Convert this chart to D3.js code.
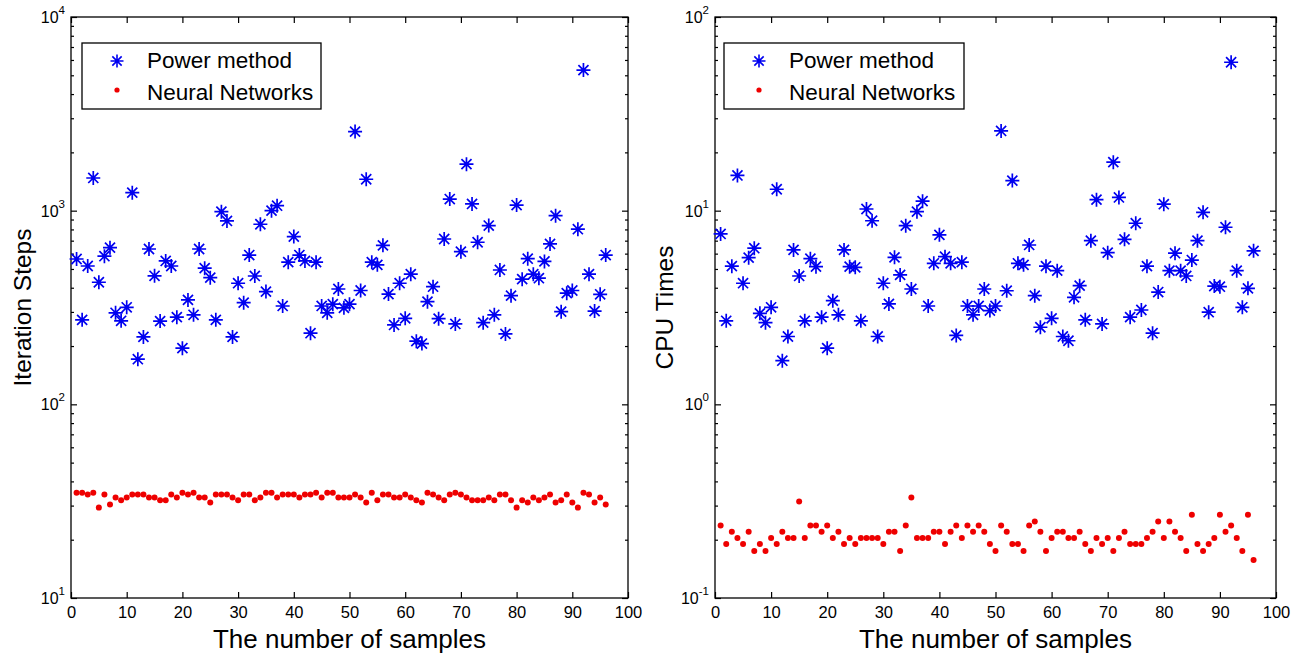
<!DOCTYPE html>
<html>
<head>
<meta charset="utf-8">
<script src="https://cdn.jsdelivr.net/npm/d3@7"></script>
<style>
html,body{margin:0;padding:0;background:#fff;}
svg{display:block;font-family:"Liberation Sans",Arial,sans-serif;}
</style>
</head>
<body>
<svg id="chart" width="1312" height="657"></svg>
<script>
const sampleNumbers = d3.range(1, 97);
const xTicks = [0,10,20,30,40,50,60,70,80,90,100];
const seriesNames = ["Power method", "Neural Networks"];
const xLabel = "The number of samples";

const iterPower = [563,273,518,1475,427,582,644,297,270,317,
  1239,171,223,634,461,269,550,518,282,195,
  346,290,634,505,451,273,988,885,223,422,
  335,590,460,851,382,1000,1061,322,542,735,
  590,550,233,542,322,297,329,394,315,329,
  2560,387,1453,542,525,662,371,257,422,278,
  470,212,206,339,405,277,714,1148,260,614,
  1738,1083,687,264,838,290,494,231,364,1069,
  443,565,470,448,547,673,942,301,375,387,
  802,5320,470,303,370,590];
const iterNN = [35.0,35.0,34.2,35.0,29.3,34.2,30.4,33.0,32.0,33.0,
  34.2,34.2,34.2,33.0,33.0,32.0,32.0,34.2,33.0,35.0,
  34.2,35.0,33.0,33.0,31.1,34.2,34.2,34.2,33.0,32.0,
  34.2,34.2,32.0,33.0,35.0,35.0,33.0,34.2,34.2,34.2,
  33.0,34.2,34.2,35.0,33.0,35.0,35.0,33.0,
  33.0,33.0,34.2,33.0,31.1,35.0,32.0,34.2,34.2,33.0,
  33.0,34.2,33.0,32.0,31.1,35.0,34.2,33.0,32.0,34.2,
  35.0,34.2,33.0,32.0,32.0,32.0,33.0,32.0,34.2,34.2,
  32.0,29.3,32.0,31.1,33.0,32.0,33.0,34.2,31.1,32.0,
  34.2,31.1,29.3,35.0,34.2,31.1,33.0,30.4];
const cpuPower = [7.58,2.70,5.17,15.2,4.22,5.72,6.40,2.95,2.64,3.17,
  12.9,1.68,2.24,6.27,4.60,2.70,5.65,5.14,2.82,1.95,
  3.43,2.90,6.27,5.14,5.10,2.70,10.2,8.87,2.24,4.22,
  3.30,5.74,4.66,8.37,3.94,9.88,11.2,3.22,5.35,7.50,
  5.79,5.35,2.27,5.42,3.22,2.90,3.22,3.94,3.05,3.22,
  25.8,3.86,14.3,5.35,5.25,6.65,3.64,2.50,5.17,2.78,
  4.90,2.24,2.13,3.57,4.10,2.73,7.00,11.4,2.60,6.07,
  17.8,11.7,7.11,2.82,8.61,3.07,5.17,2.33,3.80,10.8,
  4.90,6.03,4.90,4.60,5.56,7.00,9.81,2.99,4.08,4.05,
  8.21,58.4,4.90,3.17,3.97,6.20];
const cpuNN = [.237,.190,.220,.204,.190,.220,.175,.190,.175,.204,
  .190,.220,.204,.204,.315,.204,.237,.237,.220,.237,
  .204,.220,.190,.204,.190,.204,.204,.204,.204,.190,
  .220,.220,.175,.237,.330,.204,.204,.204,.220,.220,
  .190,.220,.237,.204,.237,.220,.237,.220,.190,.175,
  .237,.220,.190,.190,.175,.237,.248,.220,.175,.204,
  .220,.220,.204,.204,.220,.190,.175,.204,.190,.204,
  .175,.204,.220,.190,.190,.190,.204,.220,.248,.204,
  .248,.220,.204,.175,.269,.190,.175,.190,.204,.269,
  .220,.237,.204,.175,.269,.157];

const leftYExps = [1,2,3,4];
const rightYExps = [-1,0,1,2];

const panels = [
  {x0:71, x1:628, yLabel:"Iteration Steps", yLabelX:31, exps:leftYExps, power:iterPower, nn:iterNN, legX:82, legW:239},
  {x0:715, x1:1276, yLabel:"CPU Times", yLabelX:673, exps:rightYExps, power:cpuPower, nn:cpuNN, legX:724, legW:240}
];
const yTop = 17, yBot = 598;
const BLUE = "#0000f0", RED = "#ee0000";

const svg = d3.select("#chart");

function starPath(r){
  const d = r*0.72;
  return `M${-r},0L${r},0M0,${-r}L0,${r}M${-d},${-d}L${d},${d}M${-d},${d}L${d},${-d}`;
}

panels.forEach(p => {
  const x = d3.scaleLinear().domain([0,100]).range([p.x0, p.x1]);
  const y = d3.scaleLog().domain([Math.pow(10,p.exps[0]), Math.pow(10,p.exps[p.exps.length-1])]).range([yBot, yTop]);
  const g = svg.append("g");

  const minorVals = [];
  for (let e = p.exps[0]; e < p.exps[p.exps.length-1]; e++) {
    for (let m = 2; m <= 9; m++) minorVals.push(m*Math.pow(10,e));
  }
  const majorVals = p.exps.map(e => Math.pow(10,e));

  const yl = g.append("g").attr("transform",`translate(${p.x0},0)`)
    .call(d3.axisLeft(y).tickValues(minorVals).tickSize(-3).tickFormat(""));
  const yl2 = g.append("g").attr("transform",`translate(${p.x0},0)`)
    .call(d3.axisLeft(y).tickValues(majorVals).tickSize(-6).tickFormat(""));
  const yr = g.append("g").attr("transform",`translate(${p.x1},0)`)
    .call(d3.axisRight(y).tickValues(minorVals).tickSize(-3).tickFormat(""));
  const yr2 = g.append("g").attr("transform",`translate(${p.x1},0)`)
    .call(d3.axisRight(y).tickValues(majorVals).tickSize(-6).tickFormat(""));
  const xb = g.append("g").attr("transform",`translate(0,${yBot})`)
    .call(d3.axisBottom(x).tickValues(xTicks).tickSize(-6).tickPadding(8).tickFormat(d3.format("d")));
  const xt = g.append("g").attr("transform",`translate(0,${yTop})`)
    .call(d3.axisTop(x).tickValues(xTicks).tickSize(-6).tickFormat(""));
  [yl,yl2,yr,yr2,xb,xt].forEach(a => {
    a.select(".domain").remove();
    a.selectAll(".tick line").attr("stroke","#000").attr("stroke-width",1.2);
  });
  xb.selectAll(".tick text").attr("font-size",16.5).attr("fill","#000")
    .attr("font-family","'Liberation Sans',Arial,sans-serif");

  g.append("rect").attr("x",p.x0).attr("y",yTop).attr("width",p.x1-p.x0).attr("height",yBot-yTop)
    .attr("fill","none").attr("stroke","#000").attr("stroke-width",1.3);

  p.exps.forEach(e => {
    const t = g.append("text").attr("x",p.x0-6).attr("y",y(Math.pow(10,e))+6)
      .attr("text-anchor","end").attr("font-size",16).attr("fill","#000");
    t.append("tspan").text("10");
    t.append("tspan").attr("dy",-9).attr("font-size",11.5).text(String(e));
  });

  g.append("text").attr("x",(p.x0+p.x1)/2).attr("y",648).attr("text-anchor","middle")
    .attr("font-size",26).attr("fill","#000").text(xLabel);
  g.append("text").attr("transform",`translate(${p.yLabelX},${(yTop+yBot)/2}) rotate(-90)`)
    .attr("text-anchor","middle").attr("font-size",24.5).attr("fill","#000").text(p.yLabel);

  g.append("g").selectAll("circle").data(sampleNumbers).join("circle")
    .attr("cx",(d,i)=>x(d)).attr("cy",(d,i)=>y(p.nn[i])).attr("r",3).attr("fill",RED);
  const stars = g.append("g").selectAll("g").data(sampleNumbers).join("g")
    .attr("transform",(d,i)=>`translate(${x(d)},${y(p.power[i])})`);
  stars.append("path").attr("d",starPath(7)).attr("stroke",BLUE).attr("stroke-width",1.7).attr("fill","none");
  stars.append("circle").attr("r",2).attr("fill",BLUE);

  const lg = g.append("g");
  lg.append("rect").attr("x",p.legX).attr("y",43).attr("width",p.legW).attr("height",66)
    .attr("fill","#fff").attr("stroke","#000").attr("stroke-width",1.3);
  const sx = p.legX + 35;
  lg.append("path").attr("transform",`translate(${sx},61)`).attr("d",starPath(6.5))
    .attr("stroke",BLUE).attr("stroke-width",1.6).attr("fill","none");
  lg.append("circle").attr("cx",sx).attr("cy",61).attr("r",1.6).attr("fill",BLUE);
  lg.append("circle").attr("cx",sx).attr("cy",90).attr("r",2.6).attr("fill",RED);
  lg.append("text").attr("x",p.legX+65).attr("y",68).attr("font-size",22.5).attr("fill","#000").text(seriesNames[0]);
  lg.append("text").attr("x",p.legX+65).attr("y",100).attr("font-size",22.5).attr("fill","#000").text(seriesNames[1]);
});
</script>
</body>
</html>
